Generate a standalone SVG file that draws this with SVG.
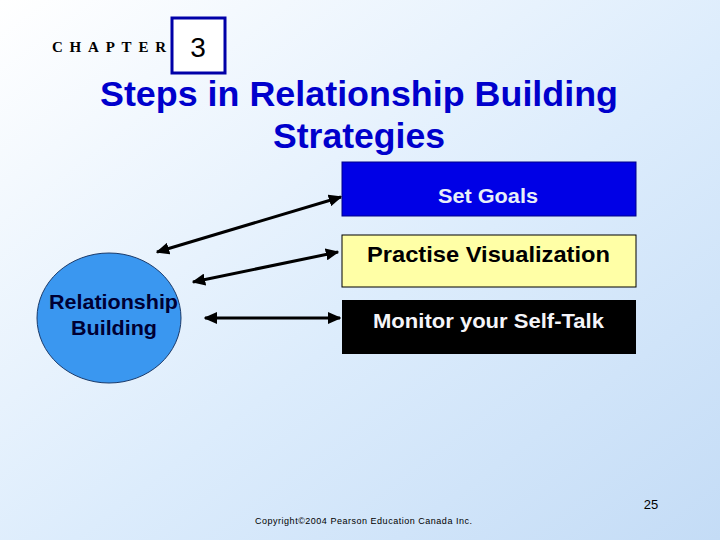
<svg xmlns="http://www.w3.org/2000/svg" width="720" height="540" viewBox="0 0 720 540">
<defs>
<linearGradient id="bg" x1="0" y1="0" x2="1" y2="1">
<stop offset="0" stop-color="#ffffff"/>
<stop offset="0.55" stop-color="#dcecfc"/>
<stop offset="1" stop-color="#c4dcf6"/>
</linearGradient>
<marker id="ah" viewBox="0 0 10 10" refX="9" refY="5" markerWidth="4.5" markerHeight="4" orient="auto-start-reverse" markerUnits="strokeWidth" preserveAspectRatio="none">
<path d="M0,0 L10,5 L0,10 Z" fill="#000"/>
</marker>
</defs>
<style>
.sans{font-family:"Liberation Sans",Arial,sans-serif;}
.conn line{stroke:#000;stroke-width:3;marker-start:url(#ah);marker-end:url(#ah);}
</style>
<rect width="720" height="540" fill="url(#bg)"/>
<g id="header">
<text x="52" y="52" font-family="Liberation Serif,'Times New Roman',serif" font-weight="bold" font-size="15" textLength="114" lengthAdjust="spacing" fill="#000">CHAPTER</text>
<rect x="172" y="18" width="53" height="55" fill="#ffffff" stroke="#0000a8" stroke-width="3"/>
<text x="198" y="57" class="sans" font-size="28" text-anchor="middle" fill="#000">3</text>
<text x="100" y="106" class="sans" font-weight="bold" font-size="35" textLength="518" lengthAdjust="spacingAndGlyphs" fill="#0000cc">Steps in Relationship Building</text>
<text x="273" y="148" class="sans" font-weight="bold" font-size="35" textLength="172" lengthAdjust="spacingAndGlyphs" fill="#0000cc">Strategies</text>
</g>
<g id="node-relationship">
<ellipse cx="109" cy="318" rx="72" ry="65" fill="#3a97f0" stroke="#1a3a6a" stroke-width="1"/>
<text x="49" y="309" class="sans" font-weight="bold" font-size="20" textLength="129" lengthAdjust="spacingAndGlyphs" fill="#000033">Relationship</text>
<text x="71" y="335" class="sans" font-weight="bold" font-size="20" textLength="86" lengthAdjust="spacingAndGlyphs" fill="#000033">Building</text>
</g>
<g id="node-setgoals">
<rect x="342" y="162" width="294" height="54" fill="#0000e6" stroke="#00008a" stroke-width="1"/>
<text x="438" y="203" class="sans" font-weight="bold" font-size="20" textLength="100" lengthAdjust="spacingAndGlyphs" fill="#e8eef8">Set Goals</text>
</g>
<g id="node-visualization">
<rect x="342" y="235" width="294" height="52" fill="#ffffa6" stroke="#000" stroke-width="1"/>
<text x="367" y="262" class="sans" font-weight="bold" font-size="22" textLength="243" lengthAdjust="spacingAndGlyphs" fill="#000">Practise Visualization</text>
</g>
<g id="node-selftalk">
<rect x="342" y="300" width="294" height="54" fill="#000"/>
<text x="373" y="328" class="sans" font-weight="bold" font-size="20.5" textLength="231" lengthAdjust="spacingAndGlyphs" fill="#f4f4f8">Monitor your Self-Talk</text>
</g>
<g id="connectors" class="conn">
<line x1="157" y1="252" x2="341" y2="197"/>
<line x1="193" y1="282" x2="338" y2="252"/>
<line x1="205" y1="318" x2="340" y2="318"/>
</g>
<g id="footer">
<text x="651" y="509" class="sans" font-size="13" text-anchor="middle" fill="#000">25</text>
<text x="255" y="524" class="sans" font-size="9" textLength="217" lengthAdjust="spacing" fill="#000">Copyright©2004 Pearson Education Canada Inc.</text>
</g>
</svg>
